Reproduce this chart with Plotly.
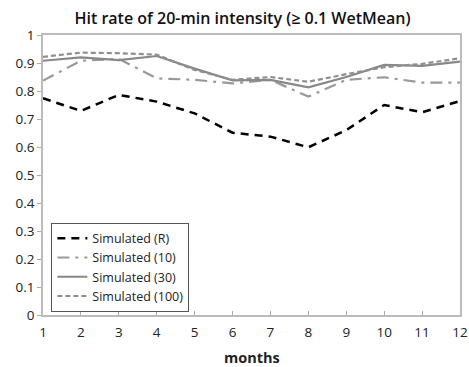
import plotly.graph_objects as go

months = list(range(1, 13))
sim_r = [0.774, 0.729, 0.786, 0.762, 0.72, 0.651, 0.637, 0.599, 0.66, 0.75, 0.724, 0.764]
sim_10 = [0.837, 0.908, 0.915, 0.845, 0.84, 0.827, 0.84, 0.78, 0.84, 0.849, 0.83, 0.83]
sim_30 = [0.908, 0.92, 0.91, 0.925, 0.88, 0.838, 0.84, 0.813, 0.85, 0.893, 0.89, 0.905]
sim_100 = [0.922, 0.937, 0.935, 0.93, 0.875, 0.84, 0.85, 0.833, 0.86, 0.885, 0.897, 0.917]
y_ticks = [0, 0.1, 0.2, 0.3, 0.4, 0.5, 0.6, 0.7, 0.8, 0.9, 1]
y_tick_labels = ["0", "0.1", "0.2", "0.3", "0.4", "0.5", "0.6", "0.7", "0.8", "0.9", "1"]

fig = go.Figure()
fig.add_trace(go.Scatter(x=months, y=sim_r, mode="lines", name="Simulated (R)",
                         line=dict(color="black", width=2.5, dash="8px,6px")))
fig.add_trace(go.Scatter(x=months, y=sim_10, mode="lines", name="Simulated (10)",
                         line=dict(color="#999999", width=2.2, dash="12px,6px,3px,6px")))
fig.add_trace(go.Scatter(x=months, y=sim_30, mode="lines", name="Simulated (30)",
                         line=dict(color="#888888", width=2.2)))
fig.add_trace(go.Scatter(x=months, y=sim_100, mode="lines", name="Simulated (100)",
                         line=dict(color="#8f8f8f", width=2.2, dash="5px,3px")))

fig.update_layout(
    width=469, height=367,
    margin=dict(l=43, r=9, t=35, b=52),
    paper_bgcolor="white", plot_bgcolor="white",
    font=dict(family="Open Sans, Liberation Sans, sans-serif", color="#222222", size=13),
    title=dict(text="Hit rate of 20-min intensity (\u2265 0.1 WetMean)", x=0.517, xanchor="center",
               y=0.951, yanchor="middle", font=dict(size=16, color="#111111", weight=600)),
    showlegend=True,
    legend=dict(x=0.02, y=0.33, xanchor="left", yanchor="top",
                bordercolor="#555555", borderwidth=1, bgcolor="white",
                font=dict(size=12.5, color="#222222"), tracegroupgap=0),
    xaxis=dict(range=[1, 12], tickmode="array", tickvals=months,
               ticks="inside", ticklen=4, tickcolor="#aaaaaa", automargin=False,
               ticklabeloverflow="allow",
               showgrid=False, zeroline=False, showline=True, linecolor="#bbbbbb", linewidth=1.5,
               mirror=True, tickfont=dict(size=13.5), ticklabelstandoff=4),
    yaxis=dict(range=[0, 1], tickmode="array", tickvals=y_ticks, ticktext=y_tick_labels,
               ticks="outside", ticklen=4, tickcolor="#aaaaaa", automargin=False,
               ticklabeloverflow="allow",
               showgrid=False, zeroline=False, showline=True, linecolor="#bbbbbb", linewidth=1.5,
               mirror=True, tickfont=dict(size=13.5)),
    annotations=[dict(text="<b>months</b>", x=0.5, y=-0.15, xref="paper", yref="paper",
                      xanchor="center", yanchor="middle", showarrow=False, borderpad=0,
                      font=dict(size=14.5, color="#222222"))],
)

fig.write_html("out.html", config={"displayModeBar": False},
               post_script="document.body.style.margin='0';document.body.style.overflow='hidden';")
